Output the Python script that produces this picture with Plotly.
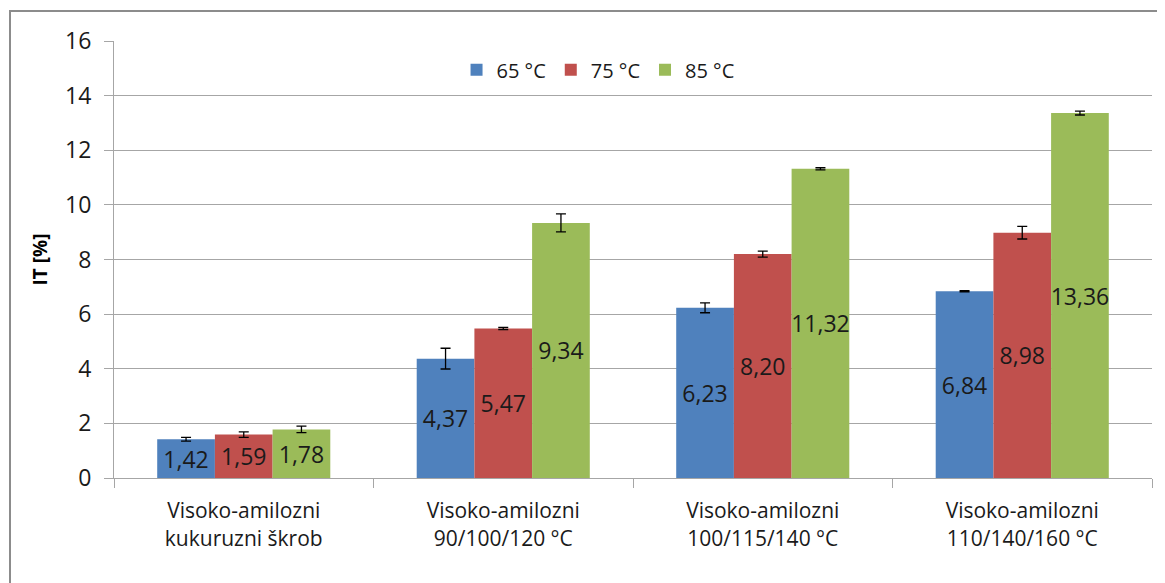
import plotly.graph_objects as go

categories = ["Visoko-amilozni<br>kukuruzni škrob", "Visoko-amilozni<br>90/100/120 °C",
              "Visoko-amilozni<br>100/115/140 °C", "Visoko-amilozni<br>110/140/160 °C"]
series_names = ["65 °C", "75 °C", "85 °C"]
v65 = [1.42, 4.37, 6.23, 6.84]
v75 = [1.59, 5.47, 8.20, 8.98]
v85 = [1.78, 9.34, 11.32, 13.36]
e65 = [0.07, 0.38, 0.18, 0.02]
e75 = [0.10, 0.04, 0.11, 0.23]
e85 = [0.12, 0.33, 0.04, 0.07]
colors = ["#4F81BD", "#C0504D", "#9BBB59"]
y_ticks = [0, 2, 4, 6, 8, 10, 12, 14, 16]

FONT = "Open Sans, sans-serif"
TXT = "#1a1a1a"

fig = go.Figure()
for name, vals, errs, col in zip(series_names, [v65, v75, v85], [e65, e75, e85], colors):
    fig.add_trace(go.Bar(
        name=name, x=categories, y=vals, marker=dict(color=col, line=dict(width=0)),
        error_y=dict(type="data", array=errs, visible=True, color="black", thickness=1.3, width=5),
        text=[f"{v:.2f}".replace(".", ",") for v in vals],
        textposition="inside", insidetextanchor="middle", textangle=0,
        textfont=dict(family=FONT, size=23, color=TXT),
        constraintext="none", cliponaxis=False,
    ))

W, H = 1157, 575
L, T, PH = 106, 33, 437
R = W - L - 1038
B = H - T - PH

fig.update_layout(
    width=W, height=H,
    barmode="group", bargap=0.333, bargroupgap=0,
    plot_bgcolor="white", paper_bgcolor="white",
    margin=dict(l=L, r=R, t=T, b=B, autoexpand=False),
    font=dict(family=FONT, size=20, color=TXT),
    legend=dict(orientation="h", x=0.33, y=0.934, xanchor="left", yanchor="middle",
                font=dict(size=20, family=FONT, color=TXT), bgcolor="rgba(0,0,0,0)",
                itemwidth=30, traceorder="normal"),
    showlegend=True,
)
fig.update_yaxes(
    range=[0, 16], tickvals=y_ticks, ticktext=[str(t) for t in y_ticks],
    showgrid=True, gridcolor="#A6A6A6", gridwidth=1,
    showline=True, linecolor="#A6A6A6", linewidth=1,
    ticks="outside", ticklen=9, tickcolor="#A6A6A6", ticklabelstandoff=8,
    tickfont=dict(size=23, family=FONT, color=TXT),
    title=dict(text="<b>IT [%]</b>", font=dict(size=19, family=FONT, color="black"), standoff=12),
    zeroline=False,
)
fig.update_xaxes(
    showline=True, linecolor="#A6A6A6", linewidth=1,
    ticks="outside", ticklen=9, tickcolor="#A6A6A6", tickson="boundaries",
    ticklabelstandoff=14,
    tickfont=dict(size=21, family=FONT, color=TXT),
)
fig.add_shape(type="rect", xref="paper", yref="paper",
              x0=(2 - L) / 1038, x1=1.05, y0=-0.4, y1=(PH + T - 3) / PH,
              line=dict(color="#8C8C8C", width=2), layer="below")

fig.write_html("out.html")
